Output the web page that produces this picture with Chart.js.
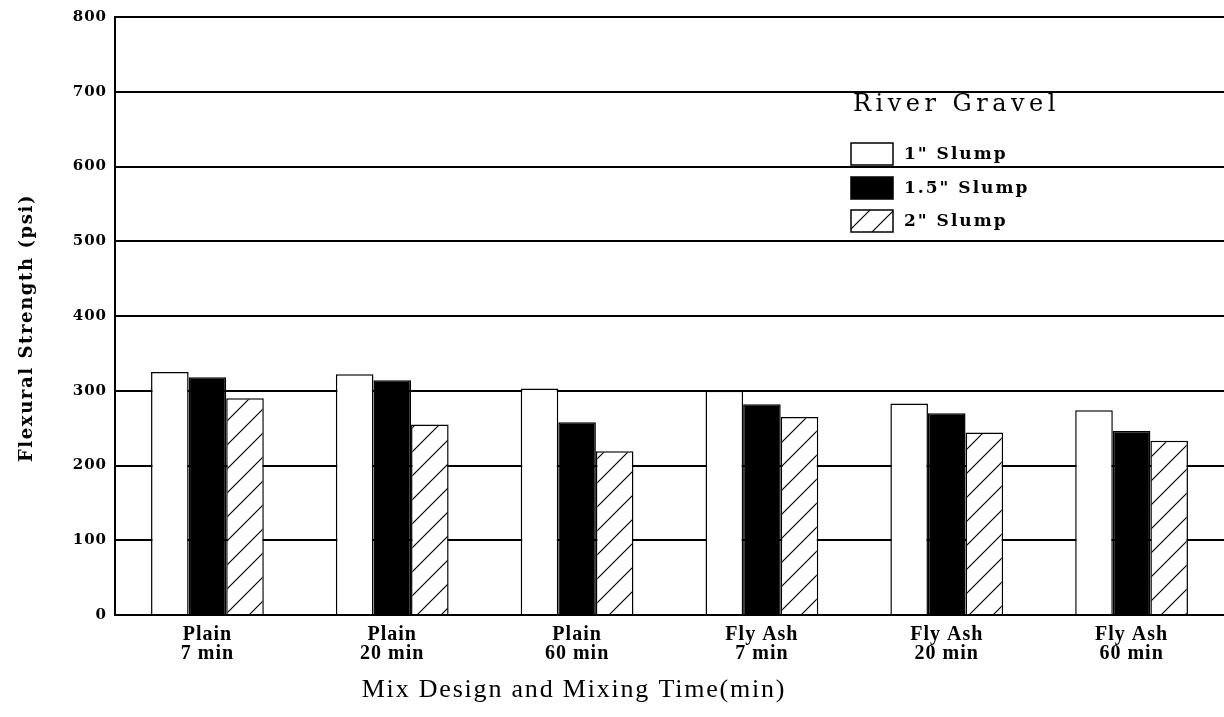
<!DOCTYPE html>
<html>
<head>
<meta charset="utf-8">
<script src="https://cdn.jsdelivr.net/npm/chart.js@4"></script>
<style>
  html, body { margin: 0; padding: 0; background: #fff; }
  #wrap { width: 1224px; height: 717px; }
</style>
</head>
<body>
<div id="wrap"><canvas id="barChart" width="1224" height="717"></canvas></div>
<script>
const categories = [["Plain", "7 min"], ["Plain", "20 min"], ["Plain", "60 min"],
                    ["Fly Ash", "7 min"], ["Fly Ash", "20 min"], ["Fly Ash", "60 min"]];
const slump1 = [325, 322, 303, 300, 283, 274];
const slump15 = [318, 314, 258, 282, 270, 246];
const slump2 = [290, 255, 219, 265, 244, 233];
const yTicks = [0, 100, 200, 300, 400, 500, 600, 700, 800];
const legendTitle = "River Gravel";
const xTitle = "Mix Design and Mixing Time(min)";
const yTitle = "Flexural Strength (psi)";

const serif = "'Liberation Serif', 'Times New Roman', serif";
const wide = "'DejaVu Serif', serif";

// diagonal hatch for the 2" series
function hatch() {
  const c = document.createElement("canvas");
  c.width = 24; c.height = 24;
  const g = c.getContext("2d");
  g.fillStyle = "#fff";
  g.fillRect(0, 0, 24, 24);
  g.strokeStyle = "#000";
  g.lineWidth = 1.2;
  g.beginPath();
  g.moveTo(0, 24); g.lineTo(24, 0);
  g.moveTo(-6, 6); g.lineTo(6, -6);
  g.moveTo(18, 30); g.lineTo(30, 18);
  g.stroke();
  return g.createPattern(c, "repeat");
}
const hatchFill = hatch();

// the old typewriter-ish lettering is spaced out a bit
const spacing = {
  id: "spacing",
  beforeUpdate(chart) { chart.ctx.letterSpacing = "1px"; },
  beforeDraw(chart) { chart.ctx.letterSpacing = "1px"; }
};

// legend inside the plot + axis titles placed off-centre, like the original
const insideLegend = {
  id: "insideLegend",
  afterDraw(chart) {
    const ctx = chart.ctx;
    ctx.save();
    ctx.fillStyle = "#000";
    ctx.textBaseline = "middle";
    ctx.textAlign = "center";
    ctx.font = "26px " + serif;
    ctx.letterSpacing = "1.8px";
    ctx.fillText(xTitle, 574, 690);

    ctx.save();
    ctx.translate(27, 328);
    ctx.rotate(-Math.PI / 2);
    ctx.font = "bold 18px " + wide;
    ctx.letterSpacing = "1.6px";
    ctx.fillText(yTitle, 0, 0);
    ctx.restore();

    ctx.textAlign = "left";
    ctx.font = "24px " + wide;
    ctx.letterSpacing = "4.5px";
    ctx.fillText(legendTitle, 853, 105);
    ctx.letterSpacing = "2px";
    ctx.font = "bold 17px " + wide;
    const rows = [143, 177, 210];
    chart.data.datasets.forEach((ds, i) => {
      const y = rows[i];
      ctx.fillStyle = ds.backgroundColor;
      ctx.fillRect(851, y, 42, 22);
      ctx.strokeStyle = "#000";
      ctx.lineWidth = 1.5;
      ctx.strokeRect(851, y, 42, 22);
      ctx.fillStyle = "#000";
      ctx.fillText(ds.label, 904, y + 12);
    });
    ctx.restore();
  }
};

new Chart(document.getElementById("barChart"), {
  type: "bar",
  data: {
    labels: categories,
    datasets: [
      { label: "1\" Slump", data: slump1, backgroundColor: "#ffffff" },
      { label: "1.5\" Slump", data: slump15, backgroundColor: "#000000" },
      { label: "2\" Slump", data: slump2, backgroundColor: hatchFill }
    ]
  },
  options: {
    responsive: false,
    animation: false,
    layout: { padding: { top: 16, right: 0, left: 0, bottom: 0 } },
    datasets: {
      bar: {
        borderColor: "#000",
        borderWidth: 1.5,
        categoryPercentage: 0.61,
        barPercentage: 1
      }
    },
    plugins: {
      legend: { display: false },
      tooltip: { enabled: false }
    },
    scales: {
      x: {
        grid: { display: false },
        border: { display: true, color: "#000", width: 2 },
        ticks: {
          color: "#000",
          padding: 3,
          maxRotation: 0,
          font: { family: serif, size: 20, weight: "bold", lineHeight: 0.92 }
        },
        afterFit(scale) { scale.height = 102; }
      },
      y: {
        min: 0,
        max: 800,
        afterBuildTicks(scale) { scale.ticks = yTicks.map(v => ({ value: v })); },
        grid: { color: "#000", lineWidth: 2, drawTicks: false },
        border: { display: true, color: "#000", width: 2 },
        ticks: {
          color: "#000",
          padding: 8,
          font: { family: wide, size: 15, weight: "bold" }
        },
        afterFit(scale) { scale.width = 115; }
      }
    }
  },
  plugins: [spacing, insideLegend]
});
</script>
</body>
</html>
